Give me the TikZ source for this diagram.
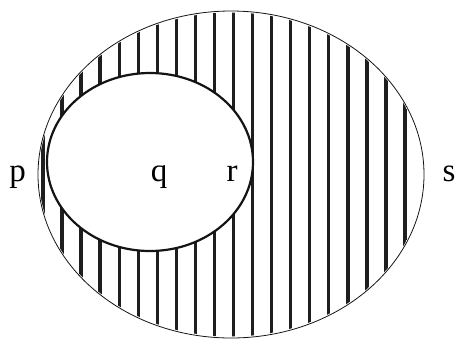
\documentclass[tikz,border=0pt]{standalone}
\usepackage{fontspec}
\setmainfont{Liberation Serif}
\usetikzlibrary{positioning}
\definecolor{hatchink}{RGB}{30,30,32}
\definecolor{ink}{RGB}{20,20,20}

\begin{document}
\begin{tikzpicture}[
  x=1bp, y=-1bp,
  hatch/.style={draw=hatchink, line width=3.4bp},
  rim/.style={draw=ink, line width=0.8bp},
  hole/.style={draw=ink, fill=white, line width=2.2bp},
  lbl/.style={anchor=base, inner sep=0pt, font=\fontsize{33bp}{36bp}\selectfont}
]
\useasboundingbox (0,0) rectangle (455,341);
% vertical hatching inside the outer ellipse
\begin{scope}
  \clip (231,174.5) ellipse [x radius=192, y radius=162];
  \foreach \i in {0,...,19}
    \draw[hatch] ({43+19.05*\i},0) -- ({43+19.05*\i},341);
\end{scope}
\draw[rim] (231,174.5) ellipse [x radius=193, y radius=163.5];
\draw[hole] (150,162) ellipse [x radius=103, y radius=89];

\node[lbl] (p) at (17.5,181) {p};
\node[lbl] (q) at (159,181) {q};
\node[lbl] (r) at (232,181) {r};
\node[lbl] (s) at (449,181) {s};

\end{tikzpicture}
\end{document}
